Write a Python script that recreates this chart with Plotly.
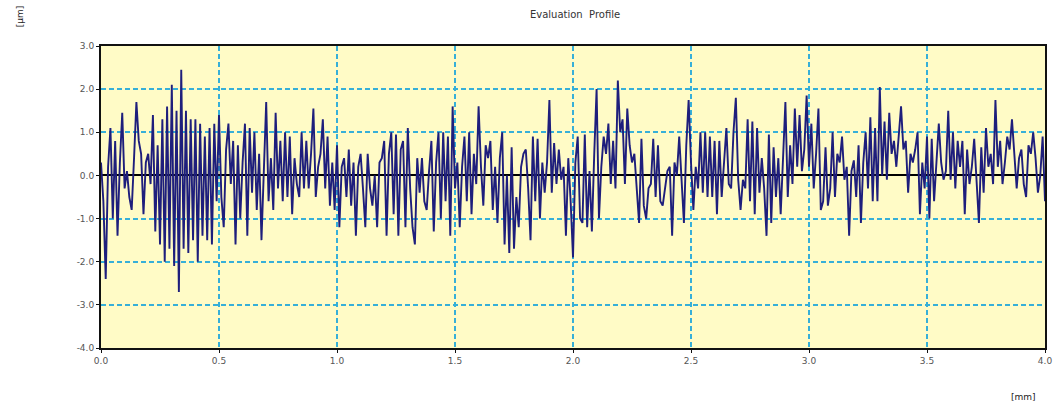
import plotly.graph_objects as go

# Profile heights [µm], sampled every 0.01 mm over 0.0 - 4.0 mm (8 segments of 0.5 mm)
seg0 = [0.3, -0.6, -2.4, 0.2, 1.1, -1.0, 0.8, -1.4, 0.3, 1.45,
        -0.3, 0.1, -0.5, -0.8, 0.4, 1.7, 0.8, 0.5, -0.9, 0.3,
        0.5, -0.2, 1.4, -1.3, 0.7, -1.6, 1.3, -2.0, 1.6, -1.7,
        2.1, -2.1, 1.5, -2.7, 2.45, -1.7, 1.5, -1.8, 1.3, -1.5,
        1.3, -2.0, 1.2, -1.4, 0.9, -1.5, 1.1, -1.6, 1.2, -0.6]
seg1 = [1.4, -0.5, -1.2, 0.6, 1.2, -0.2, 0.8, -1.6, 0.7, -1.0,
        0.3, 1.2, -1.4, 1.1, -0.4, 1.0, -0.8, 0.5, -1.5, 0.3,
        1.7, -0.6, 0.4, -0.8, 1.45, -0.3, 0.8, -0.6, 1.0, -0.5,
        0.9, -0.9, 0.4, -0.2, -0.5, 1.0, -0.3, 0.8, -0.3, 0.5,
        1.55, -0.5, 0.2, 0.5, 1.3, -0.3, 0.9, -0.7, 0.3, -0.8]
seg2 = [0.7, -1.2, 0.2, 0.4, -0.5, 0.6, -0.7, 0.3, -1.4, 0.2,
        0.5, -0.3, -1.2, 0.5, -0.3, -0.7, 0.0, -1.2, 0.3, 0.4,
        0.8, -1.4, 0.5, 1.0, -0.9, 0.95, -1.4, 0.6, 0.8, -1.2,
        1.1, -0.3, -1.2, -1.6, 0.4, -0.4, 0.4, -0.6, -0.8, 0.1,
        0.8, -1.3, 0.3, 1.0, -1.0, 1.0, -0.6, 0.9, -1.4, 1.6]
seg3 = [-0.3, 0.3, -1.2, 0.2, 0.9, -0.6, 1.0, -0.9, 0.5, -0.2,
        1.6, 0.2, -0.7, 0.7, 0.4, 0.8, -0.8, 0.2, -1.1, 0.4,
        1.0, -1.6, 0.0, -1.8, 0.65, -1.7, -0.5, -1.2, 0.2, 0.5,
        0.6, -0.3, -1.5, 0.9, -0.6, 0.85, -1.0, 0.3, -0.4, 0.3,
        1.75, -0.4, 0.75, -0.2, 0.6, -0.1, 0.2, -1.4, 0.4, -0.6]
seg4 = [-1.9, 0.3, 0.9, -1.0, -1.1, 0.95, -1.2, 0.1, -1.3, 0.5,
        2.0, -1.0, 0.2, 0.9, 0.5, 1.2, -0.2, 0.8, -0.3, 2.2,
        1.0, 1.3, -0.2, 1.55, 0.7, 0.3, 0.5, -0.3, -1.1, 0.85,
        -0.7, -1.0, -0.3, -0.2, 0.85, -0.5, 0.7, -0.6, -0.7, -0.3,
        0.1, 0.2, -1.4, 0.3, 0.0, 0.9, -0.2, -1.1, 0.7, 1.75]
seg5 = [0.3, -0.8, 0.2, -0.3, 1.0, -0.4, 1.0, -0.5, 0.9, -0.5,
        0.8, -0.9, 0.8, -0.5, 0.3, 1.1, -0.2, -0.3, 1.0, 1.8,
        -0.1, -0.8, -0.1, -0.3, 1.3, -0.6, 1.25, -0.9, 1.1, -0.4,
        0.4, -0.3, -1.4, 0.95, -1.1, 0.65, -0.5, 0.4, -0.9, 0.3,
        1.7, -0.5, 0.7, -0.2, 1.55, 0.2, 1.4, 0.1, 0.6, 1.85]
seg6 = [0.2, 1.2, -0.3, 0.5, 1.55, -0.8, -0.6, 0.65, -0.7, -0.3,
        1.0, -0.5, 0.5, 0.3, 0.9, -0.1, 0.2, -1.4, 0.1, 0.35,
        -0.5, 0.7, -1.1, 0.3, 1.0, -0.3, 1.35, -0.6, 1.1, -0.6,
        2.05, 0.0, 1.25, -0.1, 1.45, 0.5, 0.8, 0.2, 0.9, 1.6,
        0.6, 0.8, -0.4, 0.5, 0.3, 0.6, 1.0, -0.9, 0.3, -0.3]
seg7 = [0.9, -1.0, 0.85, -0.6, 0.3, 1.2, 0.3, -0.1, 0.1, 1.5,
        -0.1, 1.0, -0.3, 0.8, 0.2, 0.8, -0.9, 0.6, -0.2, 0.2,
        0.85, -0.1, -1.1, 0.65, -0.4, 1.1, 0.2, 0.5, -0.2, 1.75,
        0.2, 0.8, -0.2, 0.3, 0.9, 0.6, 1.3, 0.5, -0.3, 0.4,
        0.6, -0.2, -0.5, 0.7, 0.5, 1.0, 0.4, -0.4, 0.0, 0.9,
        -0.6]

sample_step_mm = 0.01
heights_um = seg0 + seg1 + seg2 + seg3 + seg4 + seg5 + seg6 + seg7
positions_mm = [round(i * sample_step_mm, 4) for i in range(len(heights_um))]

x_ticks = [0.0, 0.5, 1.0, 1.5, 2.0, 2.5, 3.0, 3.5, 4.0]
y_ticks = [-4.0, -3.0, -2.0, -1.0, 0.0, 1.0, 2.0, 3.0]

fig = go.Figure()
fig.add_trace(go.Scatter(
    x=positions_mm, y=heights_um, mode="lines",
    line=dict(color="#1e1e7c", width=1.9),
    hoverinfo="skip", showlegend=False,
))

font_family = "DejaVu Sans, Liberation Sans, Arial, sans-serif"
tick_font = dict(family=font_family, size=9, color="#555555")
grid_color = "#36AFD8"
fig.update_layout(
    width=1061, height=407,
    margin=dict(l=101, r=9, t=46, b=59),
    paper_bgcolor="white",
    plot_bgcolor="#FFFBC6",
    hovermode=False,
    title=dict(text="Evaluation  Profile", x=0.542, xanchor="center", y=0.965, yanchor="middle",
               font=dict(family=font_family, size=10, color="#333333")),
    xaxis=dict(range=[0, 4.0], tickvals=x_ticks, ticktext=[f"{v:.1f}" for v in x_ticks],
               showgrid=True, gridcolor=grid_color, griddash="5px,3px", gridwidth=1.5,
               zeroline=False, showline=True, linecolor="#111111", linewidth=2, mirror=True,
               ticks="outside", ticklen=3, tickcolor="#111111", tickfont=tick_font),
    yaxis=dict(range=[-4.0, 3.0], tickvals=y_ticks, ticktext=[f"{v:.1f}" for v in y_ticks],
               showgrid=True, gridcolor=grid_color, griddash="5px,3px", gridwidth=1.5,
               zeroline=True, zerolinecolor="#000000", zerolinewidth=1.5,
               showline=True, linecolor="#111111", linewidth=2, mirror=True,
               ticks="outside", ticklen=3, tickcolor="#111111", tickfont=tick_font),
    annotations=[
        dict(text="[µm]", xref="paper", yref="paper", x=-0.085, y=1.098,
             xanchor="center", yanchor="middle", textangle=-90, showarrow=False,
             font=dict(family=font_family, size=9, color="#222222")),
        dict(text="[mm]", xref="paper", yref="paper", x=0.977, y=-0.162,
             xanchor="center", yanchor="middle", showarrow=False,
             font=dict(family=font_family, size=9, color="#222222")),
    ],
)

fig.write_html("out.html", config={"displayModeBar": False},
               post_script="document.body.style.margin='0';")
